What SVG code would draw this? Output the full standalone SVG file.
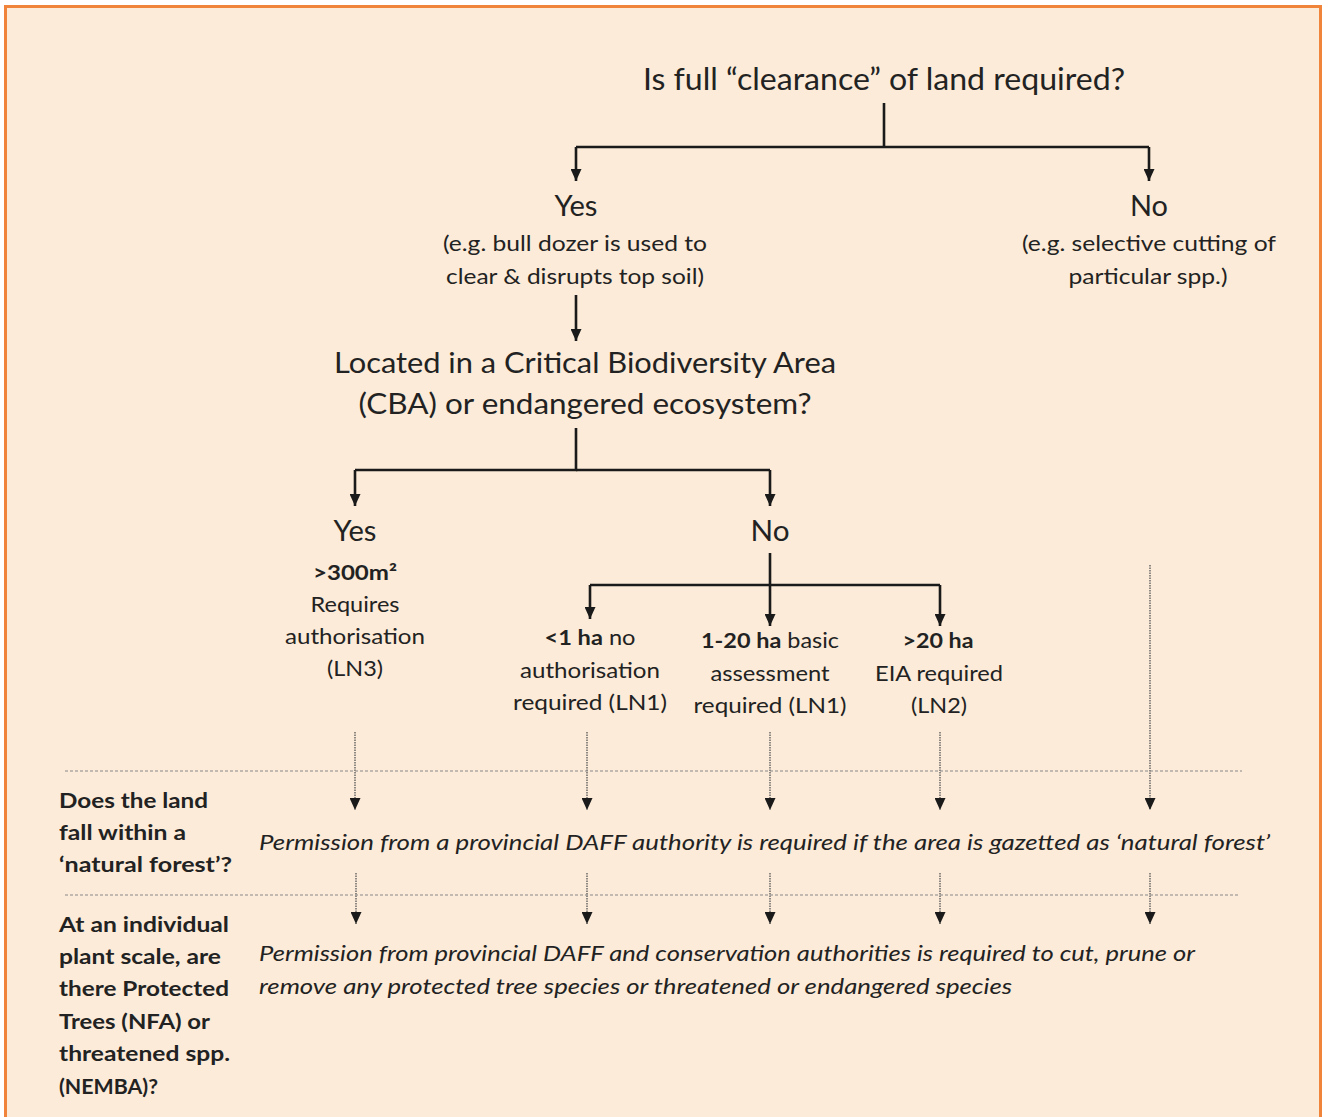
<svg xmlns="http://www.w3.org/2000/svg" width="1328" height="1117" viewBox="0 0 1328 1117">
<defs>
<style>
text{font-family:Lato,"Open Sans","Liberation Sans",sans-serif;fill:#222222}
.c{text-anchor:middle}
.t1{font-size:30px}
.t2{font-size:28px}
.t3{font-size:21px}
.b{font-weight:bold}
.i{font-style:italic;font-size:21px}
.lab{font-size:21px;font-weight:bold}
.solid{stroke:#1a1a1a;stroke-width:2.6;fill:none}
.dot{stroke:#555555;stroke-width:1.3;fill:none;stroke-dasharray:1.5 1}
.dash{stroke:#8a8a8a;stroke-width:1.2;fill:none;stroke-dasharray:3 2}
</style>
<marker id="ahs" markerUnits="userSpaceOnUse" markerWidth="11" markerHeight="12" viewBox="0 0 11 12" refX="5.5" refY="12" orient="0">
<path d="M0,0 L11,0 L5.5,12 Z" fill="#1a1a1a"/>
</marker>
</defs>
<rect x="0" y="0" width="1328" height="1117" fill="#ffffff"/>
<rect x="5.5" y="6.5" width="1315" height="1120" fill="#FBEBD8" stroke="#F0843A" stroke-width="3"/>

<g id="connectors">
<path class="solid" d="M884,103 V147"/>
<path class="solid" d="M576,147 H1149"/>
<path class="solid" d="M576,147 V181" marker-end="url(#ahs)"/>
<path class="solid" d="M1149,147 V181" marker-end="url(#ahs)"/>
<path class="solid" d="M576,295 V341" marker-end="url(#ahs)"/>
<path class="solid" d="M576,428 V470 H355"/>
<path class="solid" d="M576,470 H770"/>
<path class="solid" d="M355,470 V506" marker-end="url(#ahs)"/>
<path class="solid" d="M770,470 V506" marker-end="url(#ahs)"/>
<path class="solid" d="M770,553 V626" marker-end="url(#ahs)"/>
<path class="solid" d="M590,585 H940"/>
<path class="solid" d="M590,585 V619" marker-end="url(#ahs)"/>
<path class="solid" d="M940,585 V626" marker-end="url(#ahs)"/>
<path class="dot" d="M355,732 V810" marker-end="url(#ahs)"/>
<path class="dot" d="M587,732 V810" marker-end="url(#ahs)"/>
<path class="dot" d="M770,732 V810" marker-end="url(#ahs)"/>
<path class="dot" d="M940,732 V810" marker-end="url(#ahs)"/>
<path class="dot" d="M1150,565 V810" marker-end="url(#ahs)"/>
<path class="dot" d="M356,873 V924" marker-end="url(#ahs)"/>
<path class="dot" d="M587,873 V924" marker-end="url(#ahs)"/>
<path class="dot" d="M770,873 V924" marker-end="url(#ahs)"/>
<path class="dot" d="M940,873 V924" marker-end="url(#ahs)"/>
<path class="dot" d="M1150,873 V924" marker-end="url(#ahs)"/>
<path class="dash" d="M65,771 H1242"/>
<path class="dash" d="M65,895 H1240"/>
</g>

<g id="q1">
<text class="t1 c" x="884" y="90" textLength="482" lengthAdjust="spacingAndGlyphs">Is full “clearance” of land required?</text>
</g>
<g id="yes1">
<text class="t2 c" x="576" y="216" textLength="43" lengthAdjust="spacingAndGlyphs">Yes</text>
<text class="t3 c" x="575" y="251" textLength="264" lengthAdjust="spacingAndGlyphs">(e.g. bull dozer is used to</text>
<text class="t3 c" x="575" y="284" textLength="258" lengthAdjust="spacingAndGlyphs">clear &amp; disrupts top soil)</text>
</g>
<g id="no1">
<text class="t2 c" x="1149" y="216" textLength="38" lengthAdjust="spacingAndGlyphs">No</text>
<text class="t3 c" x="1149" y="251" textLength="254" lengthAdjust="spacingAndGlyphs">(e.g. selective cutting of</text>
<text class="t3 c" x="1148" y="284" textLength="159" lengthAdjust="spacingAndGlyphs">particular spp.)</text>
</g>
<g id="q2">
<text class="t2 c" x="585" y="373" textLength="502" lengthAdjust="spacingAndGlyphs">Located in a Critical Biodiversity Area</text>
<text class="t2 c" x="585" y="414" textLength="453" lengthAdjust="spacingAndGlyphs">(CBA) or endangered ecosystem?</text>
</g>
<g id="yes2">
<text class="t2 c" x="355" y="541" textLength="43" lengthAdjust="spacingAndGlyphs">Yes</text>
<text class="t3 c b" x="355" y="580" textLength="84" lengthAdjust="spacingAndGlyphs">&gt;300m²</text>
<text class="t3 c" x="355" y="612" textLength="89" lengthAdjust="spacingAndGlyphs">Requires</text>
<text class="t3 c" x="355" y="644" textLength="140" lengthAdjust="spacingAndGlyphs">authorisation</text>
<text class="t3 c" x="355" y="676" textLength="56" lengthAdjust="spacingAndGlyphs">(LN3)</text>
</g>
<g id="no2">
<text class="t2 c" x="770" y="541" textLength="39" lengthAdjust="spacingAndGlyphs">No</text>
</g>
<g id="lt1">
<text class="t3 c" x="590" y="645" textLength="91" lengthAdjust="spacingAndGlyphs"><tspan class="b">&lt;1 ha</tspan> no</text>
<text class="t3 c" x="590" y="678" textLength="140" lengthAdjust="spacingAndGlyphs">authorisation</text>
<text class="t3 c" x="590" y="710" textLength="154" lengthAdjust="spacingAndGlyphs">required (LN1)</text>
</g>
<g id="b1to20">
<text class="t3 c" x="770" y="648" textLength="138" lengthAdjust="spacingAndGlyphs"><tspan class="b">1-20 ha</tspan> basic</text>
<text class="t3 c" x="770" y="681" textLength="119" lengthAdjust="spacingAndGlyphs">assessment</text>
<text class="t3 c" x="770" y="713" textLength="153" lengthAdjust="spacingAndGlyphs">required (LN1)</text>
</g>
<g id="gt20">
<text class="t3 c b" x="938" y="648" textLength="71" lengthAdjust="spacingAndGlyphs">&gt;20 ha</text>
<text class="t3 c" x="939" y="681" textLength="128" lengthAdjust="spacingAndGlyphs">EIA required</text>
<text class="t3 c" x="939" y="713" textLength="56" lengthAdjust="spacingAndGlyphs">(LN2)</text>
</g>
<g id="row1">
<text class="lab" x="59" y="808" textLength="149" lengthAdjust="spacingAndGlyphs">Does the land</text>
<text class="lab" x="59" y="840" textLength="127" lengthAdjust="spacingAndGlyphs">fall within a</text>
<text class="lab" x="59" y="872" textLength="173" lengthAdjust="spacingAndGlyphs">‘natural forest’?</text>
<text class="i" x="259" y="850" textLength="1011" lengthAdjust="spacingAndGlyphs">Permission from a provincial DAFF authority is required if the area is gazetted as ‘natural forest’</text>
</g>
<g id="row2">
<text class="lab" x="59" y="932" textLength="170" lengthAdjust="spacingAndGlyphs">At an individual</text>
<text class="lab" x="59" y="964" textLength="162" lengthAdjust="spacingAndGlyphs">plant scale, are</text>
<text class="lab" x="59" y="996" textLength="170" lengthAdjust="spacingAndGlyphs">there Protected</text>
<text class="lab" x="59" y="1029" textLength="151" lengthAdjust="spacingAndGlyphs">Trees (NFA) or</text>
<text class="lab" x="59" y="1061" textLength="171" lengthAdjust="spacingAndGlyphs">threatened spp.</text>
<text class="lab" x="59" y="1094" textLength="99" lengthAdjust="spacingAndGlyphs">(NEMBA)?</text>
<text class="i" x="259" y="961" textLength="936" lengthAdjust="spacingAndGlyphs">Permission from provincial DAFF and conservation authorities is required to cut, prune or</text>
<text class="i" x="259" y="994" textLength="753" lengthAdjust="spacingAndGlyphs">remove any protected tree species or threatened or endangered species</text>
</g>
</svg>
